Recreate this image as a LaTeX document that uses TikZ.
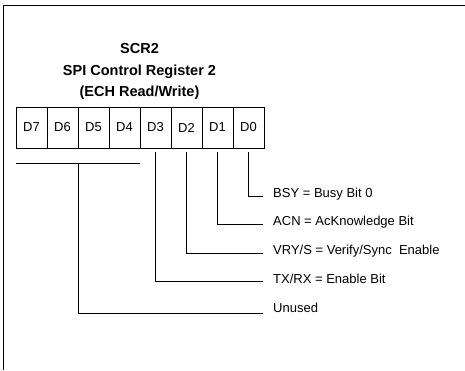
\documentclass[tikz,border=0pt]{standalone}
\usepackage{fontspec}
\setmainfont{Liberation Sans}
\usepackage{tikz}
\usetikzlibrary{positioning}

\tikzset{
  bitcell/.style={draw,thick,minimum width=31pt,minimum height=41pt,inner sep=0pt,font=\fontsize{13}{15}\selectfont},
  bitlabel/.style={anchor=west,inner sep=0pt,font=\fontsize{13}{15}\selectfont},
  regtitle/.style={font=\bfseries\fontsize{14.5}{17}\selectfont},
  lead/.style={thick}
}

\begin{document}
\begin{tikzpicture}[x=1pt,y=-1pt]
  \useasboundingbox (0,0) rectangle (465,370);
  % frame
  \draw[thick] (465,5) -- (3,5) -- (3,370);
  % title
  \node[regtitle] (ttl1) at (139.5,49) {SCR2};
  \node[regtitle] (ttl2) at (139.5,72) {SPI Control Register 2};
  \node[regtitle] (ttl3) at (139.5,93) {(ECH Read/Write)};
  % register bits
  \foreach \b [count=\i from 0] in {7,6,5,4,3,2,1,0}
    \node[bitcell] (d\b) at (31.5+31*\i,127.5) {D\b};
  % field texts
  \node[bitlabel] (bsy) at (273,194) {BSY = Busy Bit 0};
  \node[bitlabel] (acn) at (273,222) {ACN = AcKnowledge Bit};
  \node[bitlabel] (vry) at (273,251) {VRY/S = Verify/Sync\ \ Enable};
  \node[bitlabel] (txrx) at (273,279) {TX/RX = Enable Bit};
  \node[bitlabel] (unused) at (273,308) {Unused};
  % leads
  \draw[lead] ([yshift=-4]d0.south) |- ([xshift=-10,yshift=-2]bsy.west);
  \draw[lead] ([yshift=-4]d1.south) |- ([xshift=-10,yshift=-2]acn.west);
  \draw[lead] ([yshift=-4]d2.south) |- ([xshift=-10,yshift=-2]vry.west);
  \draw[lead] ([yshift=-4]d3.south) |- ([xshift=-10,yshift=-2]txrx.west);
  \draw[lead] ([yshift=-15]d7.south west) -- ([yshift=-15]d4.south east);
  \coordinate (ubar) at ([yshift=-15]d6.south east);
  \draw[lead] (ubar) |- ([xshift=-10,yshift=-5]unused.west);
\end{tikzpicture}
\end{document}
